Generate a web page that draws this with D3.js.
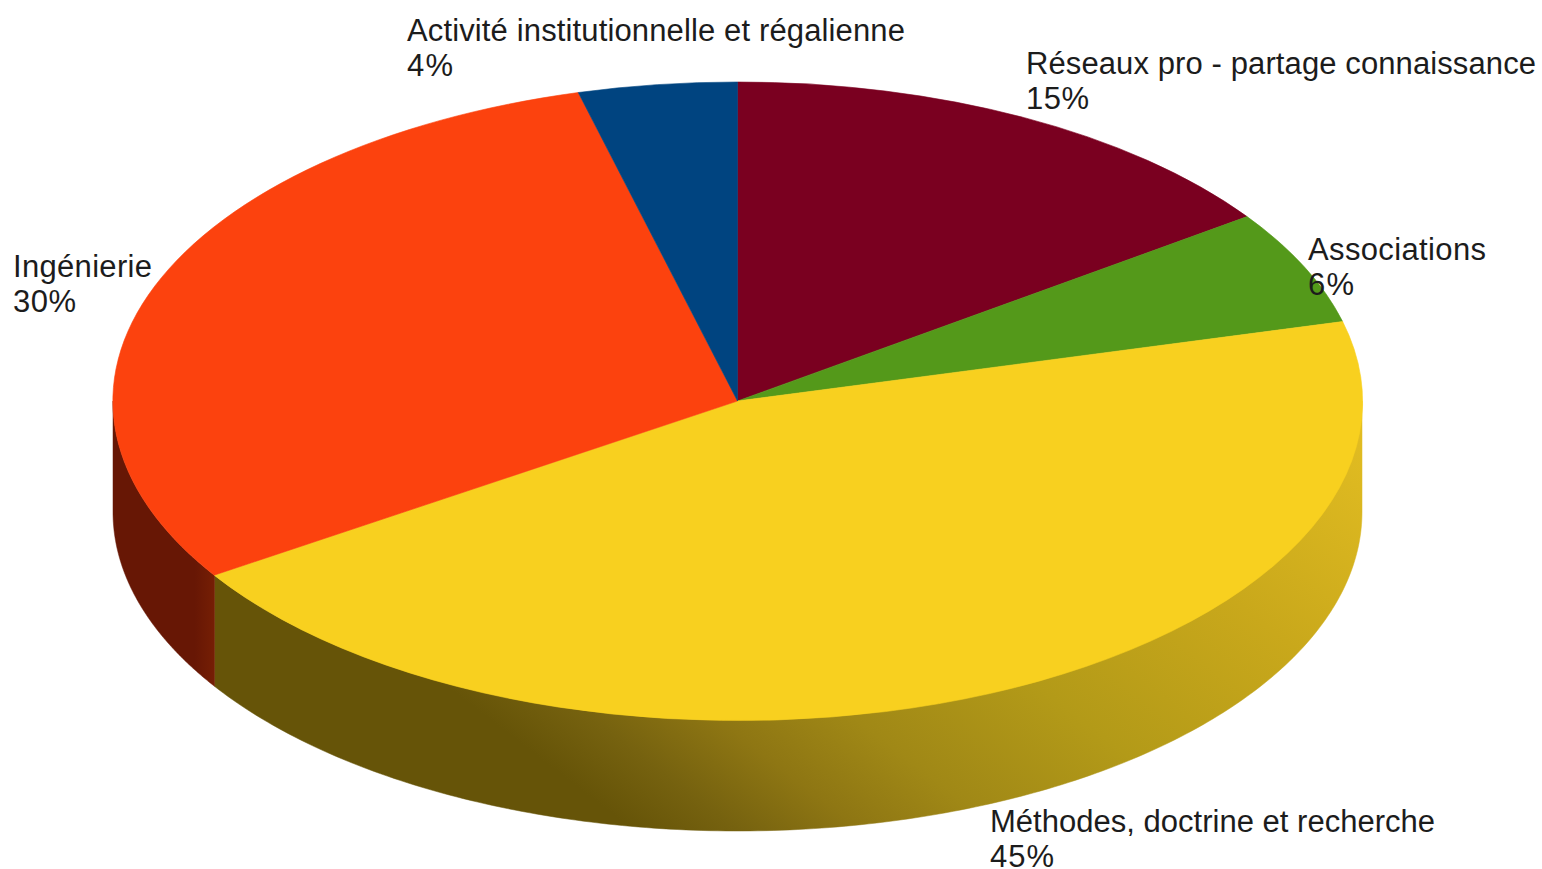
<!DOCTYPE html>
<html><head><meta charset="utf-8">
<script src="https://cdn.jsdelivr.net/npm/d3@7/dist/d3.min.js"></script>
<style>html,body{margin:0;padding:0;background:#fff;overflow:hidden}svg{display:block}text{font-family:"Liberation Sans",Arial,sans-serif;font-size:31px;fill:#1c1c1c}</style>
</head><body><script>
const categories=["Réseaux pro - partage connaissance","Associations","Méthodes, doctrine et recherche","Ingénierie","Activité institutionnelle et régalienne"];
const values=[15.2,5.8,44.8,30.1,4.1];
const percentLabels=["15%","6%","45%","30%","4%"];
const colors=["#7a0020","#54991a","#f8d01f","#fc420e","#004480"];
const labelX=[1026,1308,990,13,407];
const labelY=[74,260,832,277,41];
const labelW=[510,178,445,139,498];
const percentW=[63,46,64,63,46];
const W=1542,H=869,cx=737.5,cy=401,rx=624.5,ry=319,depth=111;
const svg=d3.select("body").append("svg").attr("width",W).attr("height",H);
const defs=svg.append("defs");
const yg=defs.append("linearGradient").attr("id","wallY").attr("gradientUnits","userSpaceOnUse").attr("x1",575).attr("y1",800).attr("x2",1058).attr("y2",172);
[[0,"#665408"],[0.015,"#665408"],[0.095,"#76620f"],[0.19,"#8e7613"],[0.297,"#a08816"],[0.47,"#b39a18"],[0.706,"#c9a81b"],[0.915,"#dcb820"],[1,"#e4be22"]].forEach(s=>yg.append("stop").attr("offset",s[0]).attr("stop-color",s[1]));
const rg=defs.append("linearGradient").attr("id","wallO").attr("gradientUnits","userSpaceOnUse").attr("x1",113).attr("y1",0).attr("x2",215).attr("y2",0);
[[0,"#671705"],[0.8,"#671705"],[1,"#761f05"]].forEach(s=>rg.append("stop").attr("offset",s[0]).attr("stop-color",s[1]));
const pie=d3.pie().sort(null).value(d=>d)(values);
const X=a=>cx+rx*Math.sin(a), Y=a=>cy-ry*Math.cos(a);
const wall=d3.area().x(X).y0(Y).y1(a=>Y(a)+depth);
const wallFill={2:"url(#wallY)",3:"url(#wallO)"};
pie.forEach((p,i)=>{
  const a0=Math.max(p.startAngle,Math.PI/2),a1=Math.min(p.endAngle,3*Math.PI/2);
  if(a1<=a0)return;
  const n=200,ang=d3.range(n+1).map(t=>a0+(a1-a0)*t/n);
  svg.append("path").attr("d",wall(ang)).attr("fill",wallFill[i]||colors[i]).attr("stroke",wallFill[i]||colors[i]).attr("stroke-width",0.5);
});
const arc=d3.arc().innerRadius(0).outerRadius(1);
svg.append("g").attr("transform",`translate(${cx},${cy}) scale(${rx},${ry})`)
  .selectAll("path").data(pie).join("path").attr("d",arc).attr("fill",(d,i)=>colors[i])
  .attr("stroke",(d,i)=>colors[i]).attr("stroke-width",0.6).attr("vector-effect","non-scaling-stroke");
const lab=svg.append("g").selectAll("text").data(categories).join("text").attr("x",(d,i)=>labelX[i]).attr("y",(d,i)=>labelY[i]);
lab.append("tspan").attr("textLength",(d,i)=>labelW[i]).text(d=>d);
lab.append("tspan").attr("x",(d,i)=>labelX[i]).attr("dy",35).attr("textLength",(d,i)=>percentW[i]).text((d,i)=>percentLabels[i]);
</script></body></html>
